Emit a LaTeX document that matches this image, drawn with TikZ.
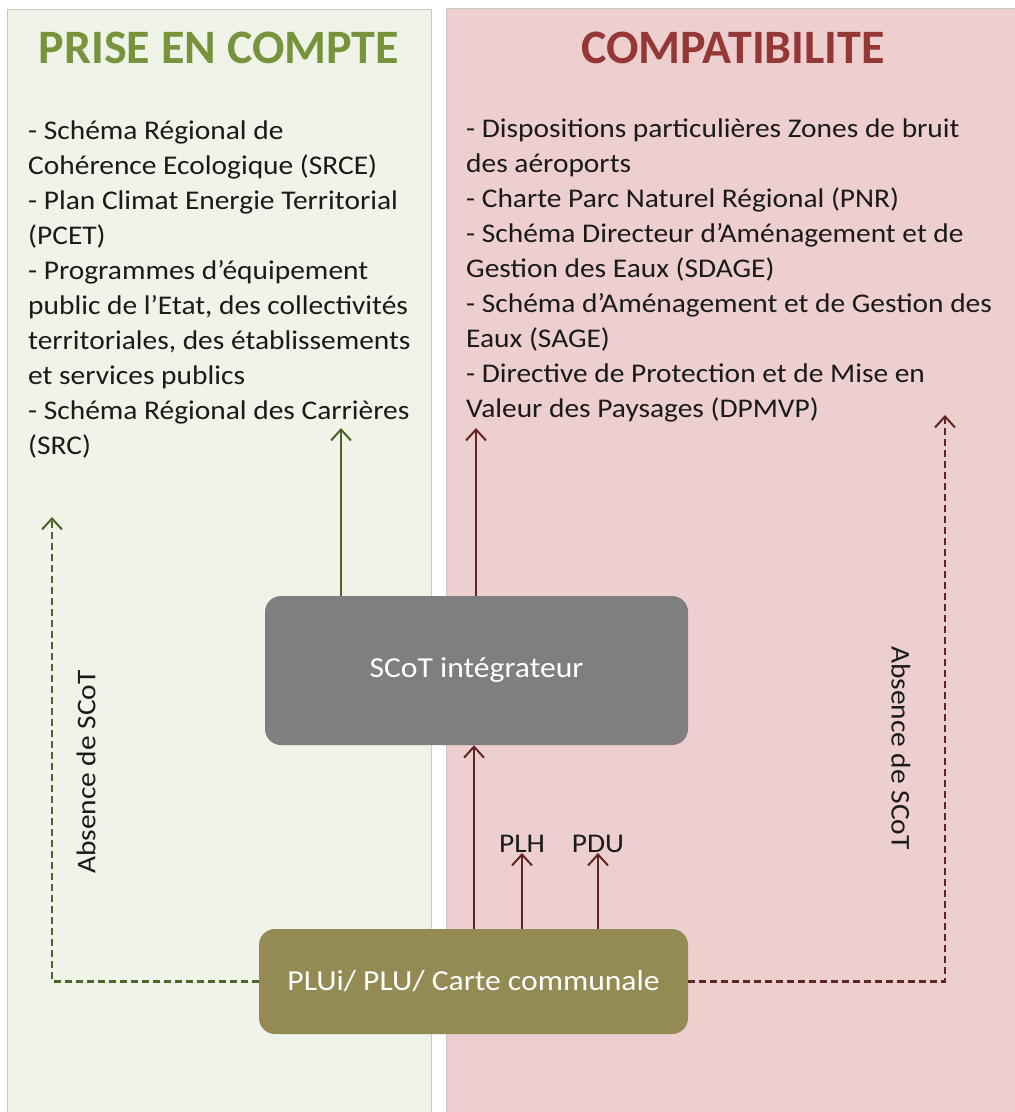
\documentclass[tikz,border=0pt]{standalone}
\usepackage{fontspec}
\setmainfont{Carlito}[FakeStretch=1.09]
\newfontfamily\titlefont{Carlito}
\usetikzlibrary{arrows.meta}
\definecolor{gpanel}{HTML}{EFF3E8}
\definecolor{rpanel}{HTML}{EDCFD0}
\definecolor{gtitle}{HTML}{77933C}
\definecolor{rtitle}{HTML}{953735}
\definecolor{garrow}{HTML}{4F6228}
\definecolor{rarrow}{HTML}{632523}
\definecolor{graybox}{HTML}{7F7F7F}
\definecolor{olivebox}{HTML}{948A54}
\definecolor{pborder}{HTML}{C8C8C8}
\definecolor{txt}{HTML}{1A1A1A}
\tikzset{
  panel/.style={draw=pborder, line width=0.8pt},
  title/.style={font=\titlefont\fontsize{48}{52}\selectfont\bfseries, inner sep=0pt},
  body/.style={font=\fontsize{27}{35}\selectfont, text=txt, align=left, inner sep=0pt, anchor=north west},
  boxnode/.style={rounded corners=16pt, text=white, inner sep=0pt, font=\fontsize{29}{32}\selectfont},
  tip/.style={-{Straight Barb[length=11pt,width=20pt,line width=2pt]}},
  garr/.style={tip, draw=garrow, line width=2pt},
  rarr/.style={tip, draw=rarrow, line width=2pt},
  gdash/.style={garr, dash pattern=on 7pt off 4pt, line width=2.4pt},
  rdash/.style={rarr, dash pattern=on 7pt off 4pt, line width=2.4pt},
  lbl/.style={font=\fontsize{27}{30}\selectfont, text=txt, inner sep=0pt},
}
\begin{document}
\begin{tikzpicture}[x=1pt,y=-1pt]
\useasboundingbox (0,0) rectangle (1015,1112);
\fill[white] (0,0) rectangle (1015,1112);
% panels
\filldraw[panel, fill=gpanel] (7.5,9) rectangle (431.5,1113);
\filldraw[panel, fill=rpanel] (446.5,8.5) rectangle (1016,1113);
% titles
\node[title, text=gtitle] (t1) at (219,48) {PRISE EN COMPTE};
\node[title, text=rtitle] (t2) at (733,48) {COMPATIBILITE};
% body texts
\node[body] (b1) at (28,114.5) {\strut- Schéma Régional de\\Cohérence Ecologique (SRCE)\\- Plan Climat Energie Territorial\\(PCET)\\- Programmes d’équipement\\public de l’Etat, des collectivités\\territoriales, des établissements\\et services publics\\- Schéma Régional des Carrières\\(SRC)};
\node[body] (b2) at (466,112.5) {\strut- Dispositions particulières Zones de bruit\\des aéroports\\- Charte Parc Naturel Régional (PNR)\\- Schéma Directeur d’Aménagement et de\\Gestion des Eaux (SDAGE)\\- Schéma d’Aménagement et de Gestion des\\Eaux (SAGE)\\- Directive de Protection et de Mise en\\Valeur des Paysages (DPMVP)};
% boxes
\node[boxnode, fill=graybox, minimum width=423pt, minimum height=149pt] (scot) at (476.5,670.5) {SCoT intégrateur};
\node[boxnode, fill=olivebox, minimum width=429pt, minimum height=105pt] (plu) at (473.5,981.5) {PLUi/ PLU/ Carte communale};
% arrow targets
\coordinate (gtop) at (341,428);
\coordinate (rtop) at (476,428);
\coordinate (gdash) at (52,517);
\coordinate (rdash) at (945,415);
\coordinate (plh) at (522,853);
\coordinate (pdu) at (598,853);
\coordinate (mid) at (474,0);
% solid arrows
\draw[garr] (scot.north -| gtop) -- (gtop);
\draw[rarr] (scot.north -| rtop) -- (rtop);
\draw[rarr] (plu.north -| mid) -- (scot.south -| mid);
\draw[rarr] (plu.north -| plh) -- (plh);
\draw[rarr] (plu.north -| pdu) -- (pdu);
\node[lbl, anchor=base] (lplh) at (522,852) {PLH};
\node[lbl, anchor=base] (lpdu) at (598,852) {PDU};
% dashed arrows
\draw[gdash] (plu.west) -| (gdash);
\draw[rdash] (plu.east) -| (rdash);
\node[lbl, rotate=90] (abs1) at (86,772) {Absence de SCoT};
\node[lbl, rotate=-90] (abs2) at (901,748) {Absence de SCoT};
\end{tikzpicture}
\end{document}
